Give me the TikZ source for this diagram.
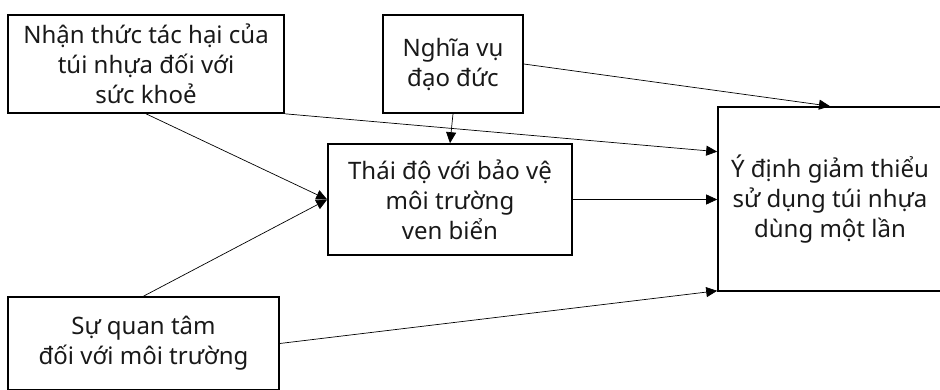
\documentclass[tikz,border=0pt]{standalone}
\usepackage{fontspec}
\setmainfont{Noto Sans}
\usepackage{tikz}
\usetikzlibrary{arrows.meta}
\usetikzlibrary{calc}
\usetikzlibrary{positioning}

\begin{document}
\begin{tikzpicture}[x=1pt, y=1pt, every node/.style={draw, line width=1.6pt, align=center, inner sep=0pt, text=black!90, font=\fontsize{24}{30}\selectfont}, arr/.style={-{Triangle[length=11pt, width=10pt]}, line width=0.7pt}]
	\useasboundingbox (0,0) rectangle (940,390);
	\clip (0,0) rectangle (940,390);
	\node[minimum width=276pt, minimum height=98pt] (nt) at (146,326) {Nhận thức tác hại của\\túi nhựa đối với\\sức khoẻ};
	\node[minimum width=140pt, minimum height=98pt] (nv) at (453,326) {Nghĩa vụ\\đạo đức};
	\node[minimum width=244pt, minimum height=111pt] (td) at (450,190.5) {Thái độ với bảo vệ\\môi trường\\ven biển};
	\node[minimum width=224pt, minimum height=184pt] (yd) at (830,191) {Ý định giảm thiểu\\sử dụng túi nhựa\\dùng một lần};
	\node[minimum width=271pt, minimum height=93pt] (qt) at (143.5,46.5) {Sự quan tâm\\đối với môi trường};
	\draw[arr] (nt.south) -- (td.west);
	\draw[arr] (qt.north) -- (td.west);
	\draw[arr] (nt.south east) -- ($(yd.north west)!0.245!(yd.south west)$);
	\draw[arr] (nv.south) -- (td.north);
	\draw[arr] (nv.east) -- (yd.north);
	\draw[arr] (td.east) -- (td.east -| yd.west);
	\draw[arr] (qt.east) -- ($(yd.south west)+(0,1)$);
\end{tikzpicture}
\end{document}
